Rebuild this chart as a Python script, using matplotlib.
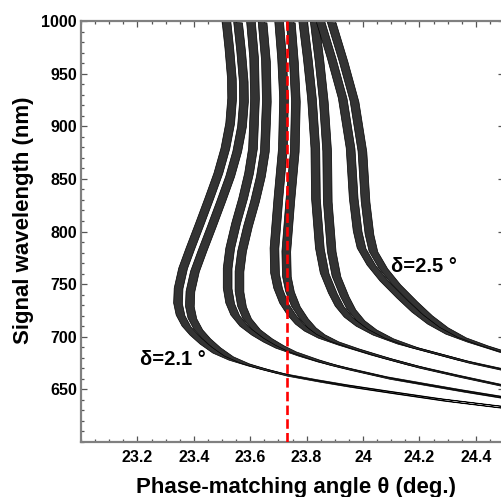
import numpy as np
import matplotlib
matplotlib.use("Agg")
import matplotlib.pyplot as plt
from matplotlib.ticker import MultipleLocator, FixedLocator

plt.rcParams["font.family"] = ["Liberation Sans", "DejaVu Sans"]
plt.rcParams["font.weight"] = "bold"

# phase-matching curves, one bundle per delta
# (phase-matching angle in deg, signal wavelength in nm)
d21_theta = [23.536, 23.547, 23.556, 23.557, 23.550, 23.533, 23.508, 23.476, 23.443, 23.409, 23.383, 23.367, 23.365,
             23.374, 23.395, 23.423, 23.459, 23.504, 23.561, 23.631, 23.727, 23.843, 23.949, 24.090, 24.284, 24.485, 24.520]
d21_wl = [1000, 972.4, 943.9, 924.9, 901.2, 877.4, 853.7, 829.9, 806.2, 782.4, 763.4, 744.4, 730.2,
          718.8, 708.3, 699.8, 691.2, 682.7, 676.0, 670.3, 663.7, 658.0, 653.2, 647.5, 639.9, 633.3, 632.2]

d22_theta = [23.623, 23.635, 23.638, 23.631, 23.617, 23.596, 23.571, 23.550, 23.541, 23.541, 23.550, 23.568,
             23.600, 23.642, 23.684, 23.727, 23.808, 23.878, 23.949, 24.090, 24.231, 24.354, 24.485, 24.520]
d22_wl = [1000, 962.9, 924.9, 877.4, 853.7, 829.9, 806.2, 782.4, 763.4, 744.4, 730.2, 718.8,
          708.3, 699.8, 693.1, 687.4, 679.8, 674.1, 669.4, 660.8, 654.2, 648.5, 642.8, 641.3]

d23_theta = [23.723, 23.734, 23.741, 23.737, 23.721, 23.707, 23.709, 23.720, 23.741, 23.769, 23.797, 23.829,
             23.878, 23.949, 24.065, 24.196, 24.337, 24.485, 24.520]
d23_wl = [1000, 962.9, 924.9, 877.4, 829.9, 782.4, 758.7, 744.4, 730.2, 718.8, 710.2, 703.6,
          696.9, 690.3, 680.8, 671.3, 662.7, 654.2, 652.2]

d24_theta = [23.808, 23.825, 23.840, 23.852, 23.854, 23.868, 23.885, 23.914, 23.938, 23.970, 24.012, 24.072,
             24.160, 24.266, 24.372, 24.485, 24.520]
d24_wl = [1000, 962.9, 924.9, 877.4, 829.9, 782.4, 758.7, 739.7, 727.3, 716.9, 708.3, 699.8,
          691.2, 683.6, 676.0, 669.4, 667.4]

d25_theta = [23.868, 23.910, 23.949, 23.977, 23.988, 24.002, 24.016, 24.051, 24.097, 24.157, 24.210, 24.266,
             24.330, 24.407, 24.485, 24.520]
d25_wl = [1000, 962.9, 924.9, 877.4, 829.9, 798.6, 782.4, 766.3, 751.1, 734.9, 721.6, 710.2,
          700.7, 693.1, 686.5, 683.5]

bundles = [
    (d21_theta, d21_wl),
    (d22_theta, d22_wl),
    (d23_theta, d23_wl),
    (d24_theta, d24_wl),
    (d25_theta, d25_wl),
]

theta_pm = 23.73  # red dashed reference angle

x_ticks = [23.2, 23.4, 23.6, 23.8, 24.0, 24.2, 24.4]
x_labels = ["23.2", "23.4", "23.6", "23.8", "24", "24.2", "24.4"]
y_ticks = [650, 700, 750, 800, 850, 900, 950, 1000]

SPLIT = 0.021   # horizontal half-distance between the two curves of a bundle (deg)
DL = 1.5        # matching vertical half-distance (nm)
HALF = 0.0155   # half-width of one curve band (deg)
HH = 0.3        # vertical skew of the band edges (nm), keeps the flat branch thin


def band(ax, th, wl, dx, dy):
    th = np.asarray(th) + dx
    wl = np.asarray(wl) + dy
    xs = np.concatenate([th - HALF, (th + HALF)[::-1]])
    ys = np.concatenate([wl + HH, (wl - HH)[::-1]])
    ax.fill(xs, ys, fc="#333333", ec="black", lw=0.5, joinstyle="round", zorder=2)


fig = plt.figure(figsize=(5.02, 4.97), dpi=100)
ax = fig.add_axes([81 / 502, 55 / 497, 423 / 502, 421 / 497])

for th, wl in bundles:
    band(ax, th, wl, -SPLIT, DL)
    band(ax, th, wl, SPLIT, -DL)

ln = ax.axvline(theta_pm, color="red", lw=1.9, zorder=3)
ln.set_dashes((3.6, 1.6))

ax.text(23.208, 678, "δ=2.1 °", fontsize=14.5, fontweight="bold", va="center", ha="left")
ax.text(24.10, 767, "δ=2.5 °", fontsize=14.5, fontweight="bold", va="center", ha="left")

ax.set_xlim(23.0, 24.5)
ax.set_ylim(600, 1000)
ax.xaxis.set_major_locator(FixedLocator(x_ticks))
ax.set_xticklabels(x_labels)
ax.xaxis.set_minor_locator(MultipleLocator(0.05))
ax.yaxis.set_major_locator(FixedLocator(y_ticks))
ax.yaxis.set_minor_locator(MultipleLocator(10))

ax.tick_params(which="both", direction="in", top=True, right=True, color="#555555", width=0.9)
ax.tick_params(which="major", length=4, labelsize=11.5, pad=3)
ax.tick_params(axis="x", which="major", pad=6)
ax.tick_params(which="minor", length=2.5)
for lab in ax.get_xticklabels() + ax.get_yticklabels():
    lab.set_fontweight("bold")
for sp in ax.spines.values():
    sp.set_color("#808080")
    sp.set_linewidth(1.6)

ax.set_xlabel("Phase-matching angle θ (deg.)", fontsize=16, fontweight="bold")
ax.set_ylabel("Signal wavelength (nm)", fontsize=16, fontweight="bold")
ax.xaxis.set_label_coords(0.508, -0.083)
ax.yaxis.set_label_coords(-0.111, 0.527)

fig.savefig("out.png", dpi=100)
